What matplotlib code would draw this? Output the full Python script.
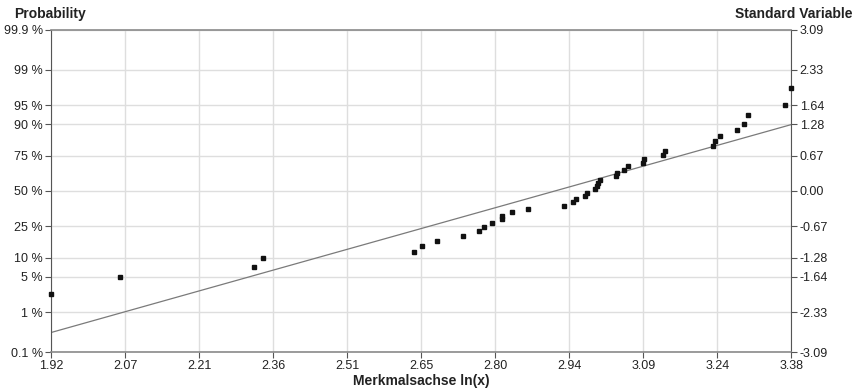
import matplotlib
matplotlib.use("Agg")
import matplotlib.pyplot as plt
import numpy as np
from statistics import NormalDist

plt.rcParams['font.family'] = ['Liberation Sans', 'DejaVu Sans']

# ln(x) of the sorted sample
ln_x = [1.919, 2.056, 2.321, 2.339, 2.637, 2.654, 2.683, 2.735, 2.766, 2.775,
        2.791, 2.811, 2.812, 2.831, 2.863, 2.935, 2.952, 2.958, 2.975, 2.979,
        2.995, 2.999, 3.002, 3.005, 3.038, 3.039, 3.052, 3.061, 3.090, 3.093,
        3.130, 3.134, 3.229, 3.233, 3.242, 3.277, 3.290, 3.298, 3.371, 3.384]
# cumulative probability (%) of each point
prob_pct = [2.44, 4.88, 7.32, 9.76, 12.20, 14.63, 17.07, 19.51, 21.95, 24.39,
            26.83, 29.27, 31.71, 34.15, 36.59, 39.02, 41.46, 43.90, 46.34, 48.78,
            51.22, 53.66, 56.10, 58.54, 60.98, 63.41, 65.85, 68.29, 70.73, 73.17,
            75.61, 78.05, 80.49, 82.93, 85.37, 87.80, 90.24, 92.68, 95.12, 97.56]

# fitted normal distribution of ln(x)
fit_mu = 2.916
fit_sigma = 0.367

x_min, x_max = 1.9192, 3.3842
x_tick_labels = ['1.92', '2.07', '2.21', '2.36', '2.51', '2.65',
                 '2.80', '2.94', '3.09', '3.24', '3.38']
z_ticks = [3.09, 2.33, 1.645, 1.28, 0.674, 0.0, -0.674, -1.28, -1.645, -2.33, -3.09]
prob_labels = ['99.9 %', '99 %', '95 %', '90 %', '75 %', '50 %',
               '25 %', '10 %', '5 %', '1 %', '0.1 %']
z_labels = ['3.09', '2.33', '1.64', '1.28', '0.67', '0.00',
            '-0.67', '-1.28', '-1.64', '-2.33', '-3.09']

nd = NormalDist()
z_pts = [nd.inv_cdf(p / 100.0) for p in prob_pct]

fig = plt.figure(figsize=(8.55, 3.89), dpi=100)
ax = fig.add_axes([0.0597, 0.0951, 0.8660, 0.8278])

ax.set_xlim(x_min, x_max)
ax.set_ylim(-3.09, 3.09)

xt = np.linspace(x_min, x_max, len(x_tick_labels))
ax.set_xticks(xt)
ax.set_xticklabels(x_tick_labels)
ax.set_yticks(z_ticks)
ax.set_yticklabels(prob_labels)

ax.grid(True, color='#dedede', linewidth=1.0)
ax.set_axisbelow(True)

# fitted line
lx = np.array([x_min, x_max])
ax.plot(lx, (lx - fit_mu) / fit_sigma, color='#7a7a7a', linewidth=0.9, zorder=2)

# sample points
ax.plot(ln_x, z_pts, linestyle='none', marker='s', markersize=2.3,
        color='#111111', clip_on=False, zorder=3)

for side in ['left', 'right']:
    ax.spines[side].set_color('#555555')
for side in ['top', 'bottom']:
    ax.spines[side].set_color('#8a8a8a')
    ax.spines[side].set_linewidth(1.2)

ax.tick_params(axis='both', direction='out', length=4, width=0.8,
               color='#555555', labelsize=9, labelcolor='#222222', pad=2)

ax2 = ax.twinx()
ax2.set_ylim(-3.09, 3.09)
ax2.set_yticks(z_ticks)
ax2.set_yticklabels(z_labels)
ax2.tick_params(axis='y', direction='out', length=4, width=0.8,
                color='#555555', labelsize=9, labelcolor='#222222', pad=2)
for s in ax2.spines.values():
    s.set_visible(False)

ax.set_xlabel('Merkmalsachse ln(x)', fontsize=10, fontweight='bold',
              color='#222222', labelpad=1)
fig.text(0.017, 0.965, 'Probability', fontsize=10, fontweight='bold',
         color='#222222', ha='left', va='center')
fig.text(0.997, 0.965, 'Standard Variable', fontsize=10, fontweight='bold',
         color='#222222', ha='right', va='center')

fig.savefig('out.png', dpi=100)
